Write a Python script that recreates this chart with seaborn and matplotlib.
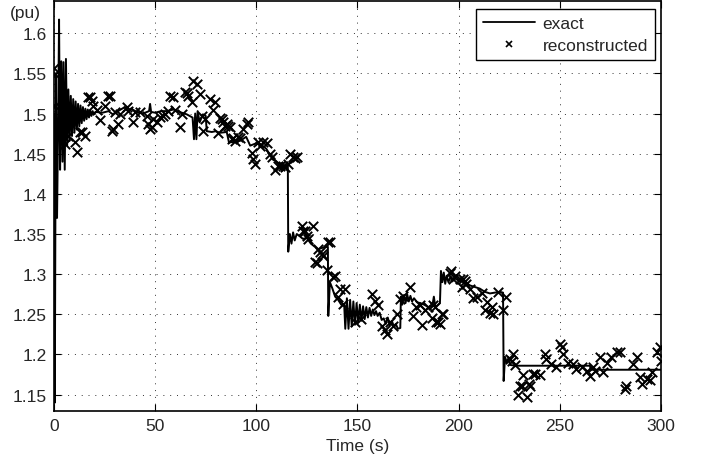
import numpy as np
import pandas as pd
import matplotlib
matplotlib.use("Agg")
import matplotlib.pyplot as plt
import seaborn as sns
from matplotlib.lines import Line2D

# --- exact trace (time in s, value in pu) ---
exact_t = [
    0.0, 0.4, 0.9, 1.5, 2.0, 2.5, 3.0, 3.6, 4.2, 4.7, 5.3, 5.9, 6.5, 7.1, 7.7,
    8.3, 8.9, 9.5, 10.1, 10.7, 11.3, 11.9, 12.5, 13.1, 13.7, 14.3, 14.9, 15.5,
    16.1, 16.7, 17.3, 17.9, 18.5, 19.1, 19.7, 20.5, 24, 27, 29, 31, 33, 35,
    36.5, 38, 41, 44, 47, 47.5, 48, 50, 53, 56, 59, 62, 65.6, 68.5, 69.2, 69.8,
    70.4, 71.0, 72.0, 73.6, 75.0, 75.5, 78, 80, 82, 85.4, 86.5, 90, 92, 95, 97,
    100, 102, 105, 108, 110, 113, 115.6, 115.8, 116.6, 117.4, 118.2, 119, 120,
    121.6, 123, 125, 127, 128, 130.5, 133, 135.4, 135.6, 136.4, 137.5, 139,
    140.5, 142, 143.5, 144.0, 144.8, 145.6, 146.4, 147.2, 148.0, 148.8, 149.6,
    150.4, 151.2, 152.0, 152.8, 153.6, 154.4, 155.2, 156.0, 156.8, 157.6,
    158.4, 159.2, 160, 161, 162, 163, 164, 165, 166, 167, 168, 169, 170, 171.2,
    171.5, 172.2, 173, 173.8, 174.6, 175.4, 176.2, 177, 178, 179.5, 181, 183,
    185, 187, 187.8, 188.5, 190, 190.8, 191.3, 192, 192.7, 193.4, 194.1, 195,
    196, 197, 198, 200, 203, 205.6, 208, 210.5, 213, 215.5, 218, 220.4, 222,
    222.3, 223.0, 223.8, 224.6, 225.5, 228, 265, 265.3, 300,
]
exact_v = [
    1.50, 1.14, 1.55, 1.37, 1.48, 1.617, 1.43, 1.565, 1.44, 1.564, 1.43, 1.568,
    1.46, 1.53, 1.466, 1.522, 1.472, 1.518, 1.476, 1.515, 1.48, 1.512, 1.484,
    1.51, 1.488, 1.508, 1.491, 1.506, 1.493, 1.505, 1.495, 1.504, 1.497, 1.503,
    1.499, 1.502, 1.501, 1.503, 1.499, 1.502, 1.505, 1.508, 1.503, 1.506,
    1.502, 1.500, 1.503, 1.512, 1.502, 1.501, 1.503, 1.503, 1.505, 1.502,
    1.499, 1.495, 1.468, 1.50, 1.468, 1.503, 1.489, 1.499, 1.497, 1.478,
    1.477, 1.478, 1.476, 1.477, 1.464, 1.465, 1.466, 1.471, 1.46, 1.463,
    1.462, 1.456, 1.443, 1.44, 1.435, 1.436, 1.328, 1.35, 1.338, 1.352, 1.342,
    1.35, 1.347, 1.344, 1.345, 1.338, 1.336, 1.331, 1.333, 1.334, 1.248, 1.29,
    1.283, 1.272, 1.268, 1.262, 1.26, 1.232, 1.27, 1.232, 1.268, 1.235, 1.266,
    1.237, 1.264, 1.24, 1.262, 1.242, 1.26, 1.244, 1.259, 1.246, 1.258, 1.248,
    1.256, 1.249, 1.254, 1.248, 1.252, 1.243, 1.245, 1.238, 1.246, 1.236,
    1.242, 1.235, 1.238, 1.232, 1.233, 1.272, 1.262, 1.274, 1.264, 1.275,
    1.266, 1.273, 1.266, 1.27, 1.265, 1.264, 1.262, 1.259, 1.26, 1.272, 1.259,
    1.262, 1.264, 1.304, 1.29, 1.302, 1.288, 1.298, 1.29, 1.297, 1.291, 1.295,
    1.292, 1.29, 1.286, 1.284, 1.282, 1.278, 1.276, 1.277, 1.278, 1.277,
    1.167, 1.197, 1.19, 1.195, 1.187, 1.186, 1.186, 1.181, 1.181,
]

# --- reconstructed samples ---
recon_t = [
    0.0, 0.5, 0.5, 4.6, 5.4, 7.1, 10.4, 11.5, 12.8, 13.7, 15.3, 17.0, 17.8,
    18.6, 19.4, 21.1, 22.7, 25.2, 26.8, 27.7, 28.5, 29.2, 30.1, 31.8, 32.6,
    35.9, 36.7, 39.2, 40.0, 42.5, 45.8, 46.6, 47.4, 48.3, 49.1, 50.8, 52.4,
    54.0, 54.9, 56.5, 57.3, 59.0, 59.8, 62.3, 63.1, 64.7, 65.6, 66.4, 68.0,
    68.8, 70.5, 72.2, 73.0, 73.8, 74.6, 77.1, 78.7, 79.6, 81.2, 82.0, 82.9,
    83.7, 84.5, 85.3, 86.1, 87.0, 87.8, 88.6, 89.5, 91.1, 91.9, 93.6, 95.2,
    96.0, 97.7, 98.5, 99.3, 101.0, 101.8, 103.4, 105.1, 106.7, 108.0, 109.2,
    110.9, 111.7, 113.3, 114.2, 115.8, 116.6, 118.3, 119.1, 119.9, 122.4,
    123.2, 124.0, 124.9, 125.7, 128.2, 129.0, 129.8, 130.6, 131.5, 132.3,
    133.1, 134.8, 135.6, 136.4, 138.0, 138.9, 140.5, 141.3, 143.0, 143.8,
    148.8, 152.0, 157.0, 158.6, 160.3, 162.0, 163.6, 164.4, 166.0, 167.7,
    169.4, 171.0, 172.6, 175.9, 177.6, 179.2, 180.9, 181.7, 183.4, 185.0,
    186.7, 187.5, 188.3, 189.1, 190.0, 190.8, 191.6, 192.4, 195.7, 196.5,
    197.4, 198.2, 200.6, 201.5, 202.3, 203.1, 203.9, 205.6, 207.2, 208.9,
    211.4, 213.0, 213.9, 215.5, 216.3, 217.1, 219.6, 222.0, 223.7, 225.4,
    226.2, 227.0, 227.8, 229.5, 230.3, 231.2, 232.0, 233.6, 235.0, 235.3,
    236.7, 237.7, 240.2, 242.7, 243.4, 245.9, 248.4, 250.0, 250.9, 251.7,
    254.2, 256.7, 258.3, 260.8, 263.3, 265.0, 266.6, 267.5, 269.9, 271.5,
    273.2, 275.6, 278.1, 279.7, 282.2, 283.0, 286.3, 288.0, 289.6, 290.5,
    293.0, 294.6, 295.4, 297.9, 299.5, 300.0,
]
recon_v = [
    1.557, 1.549, 1.509, 1.472, 1.462, 1.472, 1.464, 1.452, 1.477, 1.477,
    1.472, 1.520, 1.520, 1.515, 1.509, 1.505, 1.492, 1.509, 1.522, 1.522,
    1.478, 1.481, 1.502, 1.487, 1.499, 1.508, 1.503, 1.489, 1.502, 1.502,
    1.497, 1.487, 1.481, 1.483, 1.493, 1.489, 1.496, 1.497, 1.499, 1.503,
    1.522, 1.520, 1.504, 1.483, 1.499, 1.527, 1.525, 1.522, 1.514, 1.540,
    1.537, 1.524, 1.497, 1.478, 1.493, 1.518, 1.505, 1.514, 1.476, 1.494,
    1.493, 1.489, 1.484, 1.487, 1.485, 1.483, 1.468, 1.470, 1.466, 1.471,
    1.470, 1.481, 1.487, 1.490, 1.451, 1.443, 1.437, 1.464, 1.460, 1.464,
    1.463, 1.450, 1.446, 1.430, 1.435, 1.435, 1.435, 1.433, 1.437, 1.450,
    1.446, 1.445, 1.446, 1.360, 1.354, 1.354, 1.348, 1.344, 1.360, 1.315,
    1.314, 1.331, 1.327, 1.325, 1.323, 1.305, 1.340, 1.340, 1.297, 1.298,
    1.271, 1.282, 1.263, 1.282, 1.240, 1.244, 1.275, 1.267, 1.261, 1.236,
    1.230, 1.226, 1.240, 1.236, 1.250, 1.269, 1.273, 1.284, 1.248, 1.259,
    1.261, 1.237, 1.255, 1.259, 1.246, 1.261, 1.259, 1.240, 1.240, 1.238,
    1.250, 1.250, 1.302, 1.304, 1.294, 1.298, 1.294, 1.284, 1.294, 1.292,
    1.288, 1.282, 1.270, 1.271, 1.277, 1.255, 1.265, 1.252, 1.259, 1.250,
    1.278, 1.255, 1.271, 1.194, 1.192, 1.200, 1.187, 1.149, 1.161, 1.161,
    1.175, 1.147, 1.163, 1.161, 1.176, 1.176, 1.174, 1.200, 1.194, 1.188,
    1.184, 1.213, 1.209, 1.200, 1.190, 1.188, 1.182, 1.184, 1.180, 1.173,
    1.184, 1.180, 1.197, 1.178, 1.190, 1.197, 1.203, 1.203, 1.157, 1.161,
    1.188, 1.197, 1.172, 1.163, 1.169, 1.168, 1.178, 1.203, 1.209, 1.192,
]

x_ticks = [0, 50, 100, 150, 200, 250, 300]
y_ticks = [1.15, 1.2, 1.25, 1.3, 1.35, 1.4, 1.45, 1.5, 1.55, 1.6]
y_tick_labels = ["1.15", "1.2", "1.25", "1.3", "1.35", "1.4", "1.45", "1.5", "1.55", "1.6"]

sns.set_style("ticks")
plt.rcParams["font.family"] = ["Liberation Sans", "DejaVu Sans"]
plt.rcParams["xtick.direction"] = "in"
plt.rcParams["ytick.direction"] = "in"

FS = 12.5

exact_df = pd.DataFrame({"t": exact_t, "v": exact_v})
recon_df = pd.DataFrame({"t": recon_t, "v": recon_v})

fig = plt.figure(figsize=(7.06, 4.60), dpi=100)
ax = fig.add_axes([0.0765, 0.105, 0.8595, 0.8905])

sns.lineplot(data=exact_df, x="t", y="v", ax=ax, color="black", lw=1.4,
             sort=False, estimator=None)
sns.scatterplot(data=recon_df, x="t", y="v", ax=ax, color="black",
                marker="x", s=46, linewidth=1.4, zorder=3)

ax.set_xlim(0, 300)
ax.set_ylim(1.13, 1.64)
ax.set_xticks(x_ticks)
ax.set_xticklabels([str(v) for v in x_ticks])
ax.set_yticks(y_ticks)
ax.set_yticklabels(y_tick_labels)
ax.tick_params(axis="both", which="major", labelsize=FS, length=5,
               width=0.8, color="black", top=True, right=True,
               direction="in", pad=5)
ax.grid(True, color="black", linestyle=(0, (1, 6)), linewidth=0.7, alpha=0.8)
for sp in ax.spines.values():
    sp.set_color("black")
    sp.set_linewidth(1.2)

ax.set_xlabel("Time (s)", fontsize=FS, labelpad=4)
ax.set_ylabel("")
ax.text(-0.022, 0.972, "(pu)", transform=ax.transAxes, ha="right",
        va="center", fontsize=FS)

handles = [
    Line2D([], [], color="black", lw=1.3, label="exact"),
    Line2D([], [], color="black", lw=0, marker="x", markersize=5,
           markeredgewidth=1.2, label="reconstructed"),
]
leg = ax.legend(handles=handles, loc="upper right",
                bbox_to_anchor=(0.990, 0.980), borderaxespad=0,
                fontsize=FS, frameon=True, fancybox=False,
                handlelength=3.0, handletextpad=0.4, borderpad=0.4,
                labelspacing=0.35, numpoints=1)
leg.get_frame().set_edgecolor("black")
leg.get_frame().set_linewidth(1.0)
leg.get_frame().set_alpha(1)

fig.savefig("out.png", dpi=100)
